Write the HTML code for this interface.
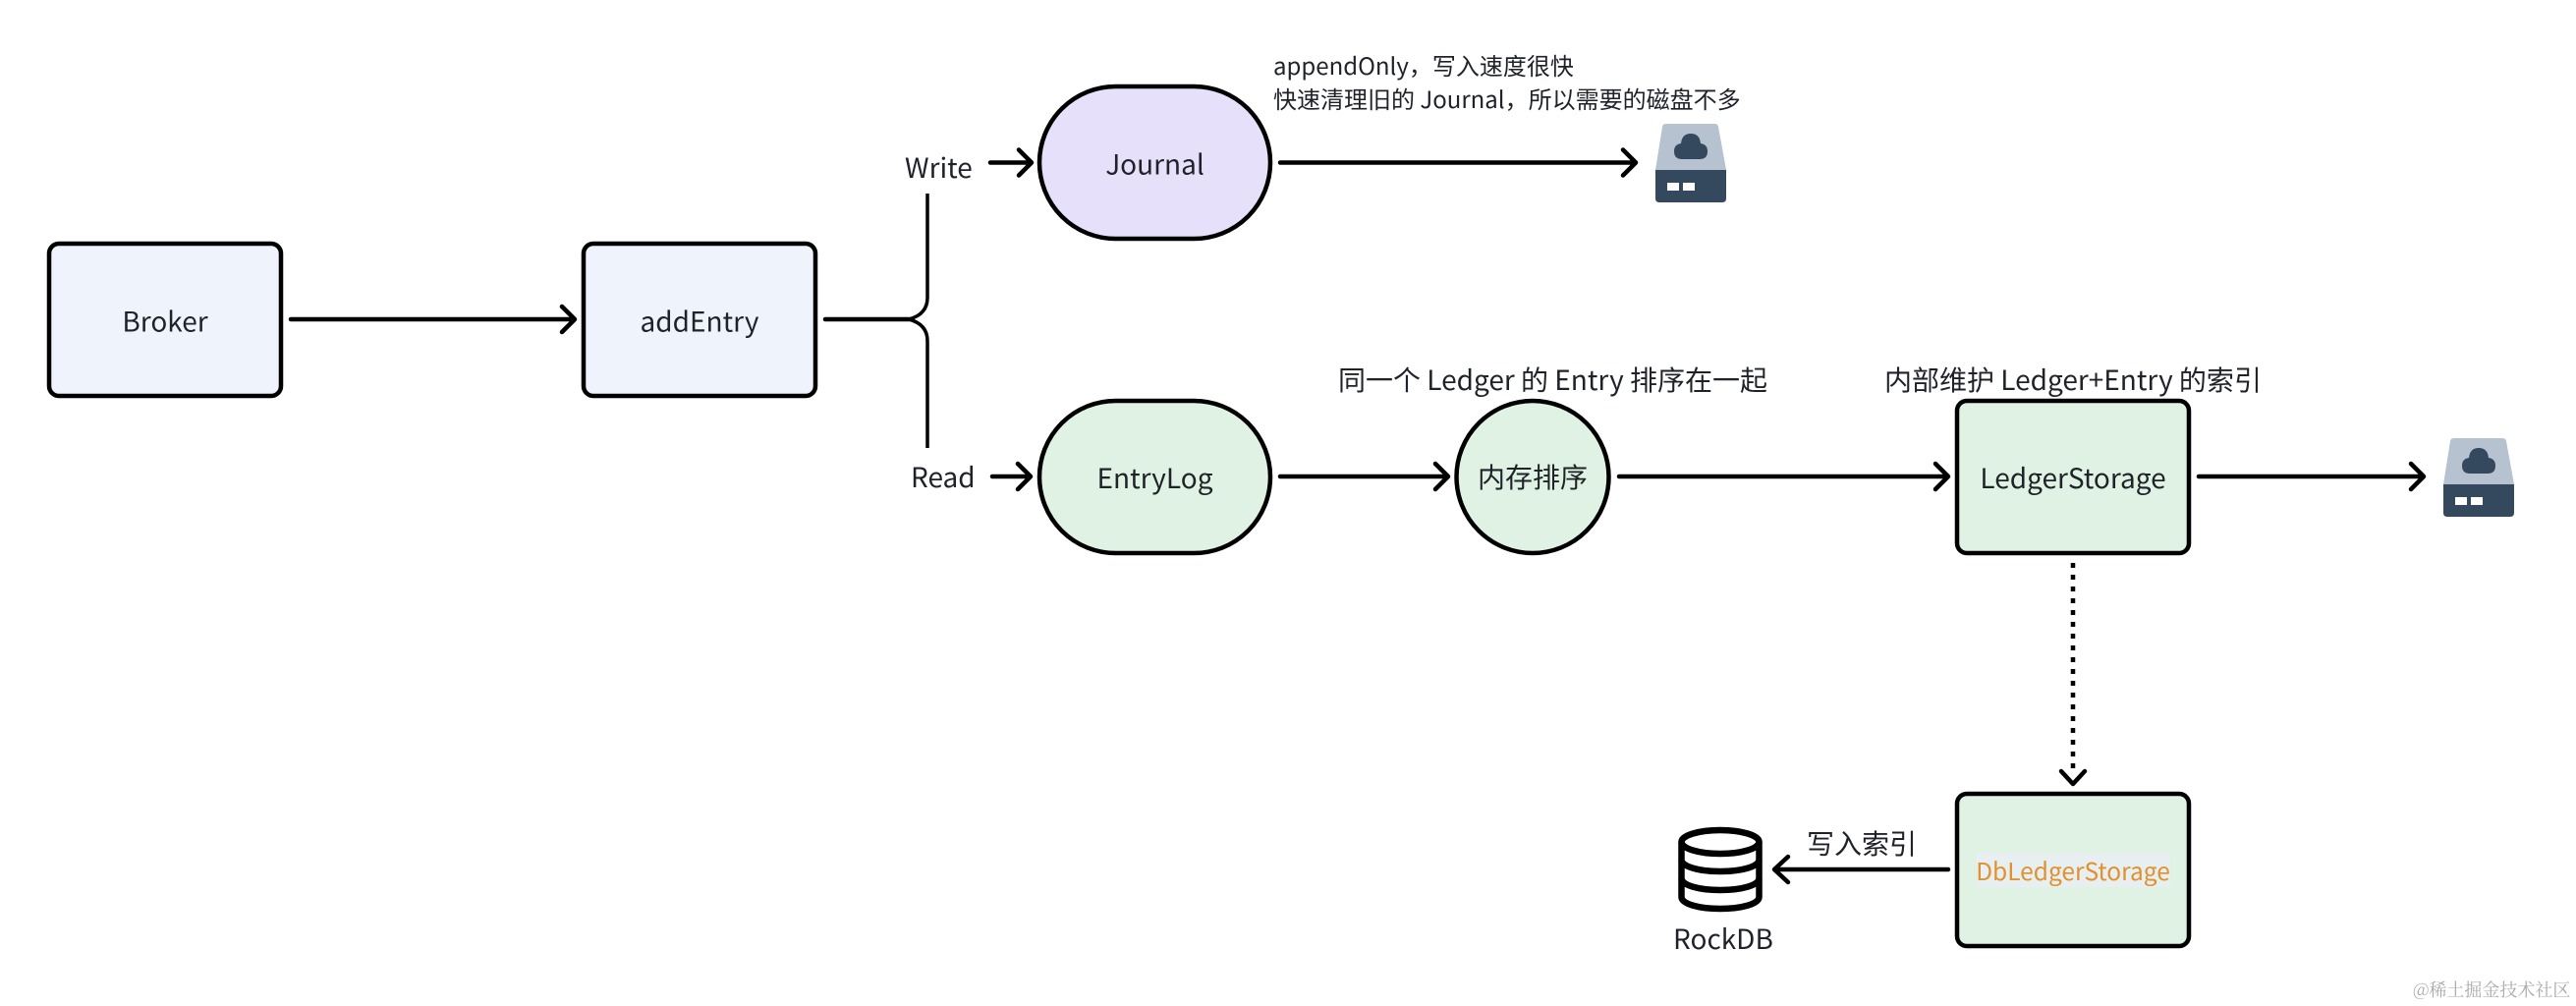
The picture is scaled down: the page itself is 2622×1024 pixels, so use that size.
<!DOCTYPE html>
<html><head><meta charset="utf-8">
<style>
html,body{margin:0;padding:0;background:#fff;width:2622px;height:1024px;overflow:hidden}
svg{display:block}
text{font-family:"Noto Sans CJK SC","Liberation Sans",sans-serif;fill:#1f2329;font-size:28px}
.l{fill:none;stroke:#000;stroke-width:4.5;stroke-linecap:round;stroke-linejoin:round}
.b{stroke:#000;stroke-width:4.5}
</style></head><body>
<svg width="2622" height="1024" viewBox="0 0 2622 1024" xmlns="http://www.w3.org/2000/svg">
<defs>
<g id="disk">
<path d="M7 3Q7.500 0 11 0H60Q63.500 0 64 3L72 47H0Z" fill="#b6c2d0"/>
<path d="M0 47H72V76Q72 80 68 80H4Q0 80 0 76Z" fill="#34495e"/>
<path d="M27 36Q19 36 19 28Q19 21 26 20Q27 10 36 10Q45 10 46 20Q53 21 53 28Q53 36 45 36Z" fill="#34495e"/>
<rect x="12" y="60" width="12" height="8" fill="#fff"/>
<rect x="28" y="60" width="12" height="8" fill="#fff"/>
</g>
</defs>

<!-- boxes -->
<rect x="50" y="248" width="236" height="155" rx="10" fill="#eff3fb" class="b"/>
<rect x="594" y="248" width="236" height="155" rx="10" fill="#eff3fb" class="b"/>
<rect x="1058" y="88" width="235" height="155" rx="77.500" fill="#e6e0fa" class="b"/>
<rect x="1058" y="408" width="235" height="155" rx="77.500" fill="#dff2e3" class="b"/>
<circle cx="1560" cy="485.500" r="77.500" fill="#dff2e3" class="b"/>
<rect x="1992" y="408" width="236" height="155" rx="10" fill="#dff2e3" class="b"/>
<rect x="1992" y="808" width="236" height="155" rx="10" fill="#dff2e3" class="b"/>

<!-- connectors -->
<path class="l" d="M296 325H584M572 312L585 325L572 338"/>
<path class="l" d="M840 325H925"/>
<path class="l" style="stroke-width:3.500;stroke-linecap:butt" d="M944 197V303Q944 320 925 325Q944 330 944 347V456"/>
<path class="l" d="M1008 165.500H1049M1037 152.500L1050 165.500L1037 178.500"/>
<path class="l" d="M1303 165.500H1664M1652 152.500L1665 165.500L1652 178.500"/>
<path class="l" d="M1010 485H1048M1036 472L1049 485L1036 498"/>
<path class="l" d="M1303 485H1473M1461 472L1474 485L1461 498"/>
<path class="l" d="M1648 485H1982M1970 472L1983 485L1970 498"/>
<path class="l" d="M2238 485H2466M2454 472L2467 485L2454 498"/>
<path d="M2110 573V785" fill="none" stroke="#000" stroke-width="4.500" stroke-dasharray="5 7"/>
<path class="l" d="M2098 785L2110 798L2122 785"/>
<path class="l" d="M1983 885H1807M1820 872L1806 885L1820 898"/>

<!-- disks -->
<use href="#disk" x="1685" y="126"/>
<use href="#disk" x="2487" y="446"/>

<!-- database icon -->
<g fill="none" stroke="#000" stroke-width="6.500">
<ellipse cx="1751" cy="857" rx="39.500" ry="12"/>
<path d="M1711.500 857V913C1711.500 920 1729 925 1751 925C1773 925 1790.500 920 1790.500 913V857"/>
<path d="M1711.500 875C1711.500 882 1729 887 1751 887C1773 887 1790.500 882 1790.500 875"/>
<path d="M1711.500 894C1711.500 901 1729 906 1751 906C1773 906 1790.500 901 1790.500 894"/>
</g>

<!-- labels -->
<text x="168" y="337.500" text-anchor="middle">Broker</text>
<text x="712" y="337.500" text-anchor="middle">addEntry</text>
<text x="1175.500" y="177.500" text-anchor="middle">Journal</text>
<text x="1175.500" y="497" text-anchor="middle">EntryLog</text>
<text x="1560" y="496" text-anchor="middle">内存排序</text>
<text x="2110" y="497" text-anchor="middle">LedgerStorage</text>
<text x="921" y="181">Write</text>
<text x="927" y="496">Read</text>
<text x="1296" y="76" style="font-size:24px">appendOnly，写入速度很快</text>
<text x="1296" y="110" style="font-size:24px">快速清理旧的 Journal，所以需要的磁盘不多</text>
<text x="1362" y="397">同一个 Ledger 的 Entry 排序在一起</text>
<text x="1918" y="397">内部维护 Ledger+Entry 的索引</text>
<rect x="2012" y="868" width="197" height="35" fill="#e8eff0"/>
<text x="2110" y="896" text-anchor="middle" style="font-size:24.500px;fill:#e0912f">DbLedgerStorage</text>
<text x="1839" y="869">写入索引</text>
<text x="1703" y="966">RockDB</text>
<text x="2456" y="1014" style="font-family:'Noto Serif CJK SC',serif;font-size:18px;fill:#aaaaaa">@稀土掘金技术社区</text>
</svg>
</body></html>
